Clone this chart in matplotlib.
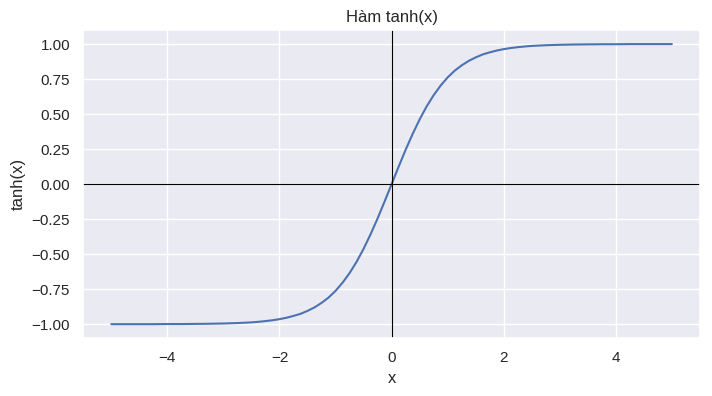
import matplotlib
matplotlib.use("Agg")
import matplotlib.pyplot as plt
import seaborn as sns

# values
x_vals = [-5.0, -4.75, -4.5, -4.25, -4.0, -3.75, -3.5, -3.25, -3.0, -2.75,
          -2.5, -2.375, -2.25, -2.125, -2.0, -1.875, -1.75, -1.625, -1.5, -1.375,
          -1.25, -1.125, -1.0, -0.875, -0.75, -0.625, -0.5, -0.375, -0.25, -0.125,
          0.0, 0.125, 0.25, 0.375, 0.5, 0.625, 0.75, 0.875, 1.0, 1.125,
          1.25, 1.375, 1.5, 1.625, 1.75, 1.875, 2.0, 2.125, 2.25, 2.375,
          2.5, 2.75, 3.0, 3.25, 3.5, 3.75, 4.0, 4.25, 4.5, 4.75, 5.0]
y_vals = [-1.000, -1.000, -1.000, -1.000, -0.999, -0.999, -0.998, -0.997, -0.995, -0.992,
          -0.987, -0.983, -0.978, -0.972, -0.964, -0.954, -0.941, -0.926, -0.905, -0.880,
          -0.848, -0.810, -0.762, -0.704, -0.635, -0.555, -0.462, -0.358, -0.245, -0.124,
          0.000, 0.124, 0.245, 0.358, 0.462, 0.555, 0.635, 0.704, 0.762, 0.810,
          0.848, 0.880, 0.905, 0.926, 0.941, 0.954, 0.964, 0.972, 0.978, 0.983,
          0.987, 0.992, 0.995, 0.997, 0.998, 0.999, 0.999, 1.000, 1.000, 1.000, 1.000]

sns.set_theme()
plt.rcParams['font.family'] = ['Liberation Sans', 'DejaVu Sans']
fig, ax = plt.subplots(figsize=(7.12, 3.96), dpi=100)
fig.subplots_adjust(left=0.117, right=0.983, top=0.924, bottom=0.146)

ax.plot(x_vals, y_vals, color='#4c72b0', linewidth=1.5)
ax.axhline(0, color='black', linewidth=0.8)
ax.axvline(0, color='black', linewidth=0.8)

ax.set_title('Hàm tanh(x)')
ax.set_xlabel('x')
ax.set_ylabel('tanh(x)')

fig.savefig('out.png', dpi=100)
